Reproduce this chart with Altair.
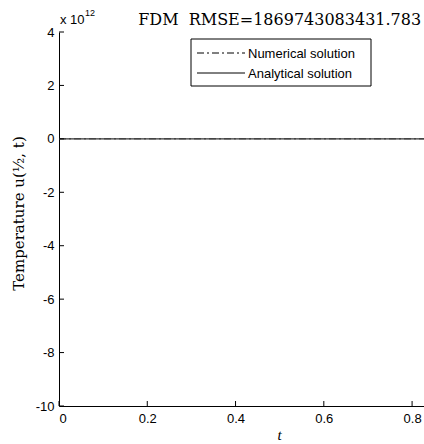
import altair as alt
import pandas as pd

# ---- data ----
t_vals = [0.0, 0.1, 0.2, 0.3, 0.4, 0.5, 0.6, 0.7, 0.8, 0.83]
analytical = [1.0, 0.373, 0.139, 0.052, 0.019, 0.0072, 0.0027, 0.001, 0.00037, 0.00028]
numerical = [1.0, 0.37, 0.14, 0.05, 0.02, 0.007, 0.003, 0.001, 0.0004, 0.0003]
series_names = ["Numerical solution", "Analytical solution"]
x_ticks = [0.0, 0.2, 0.4, 0.6, 0.8]
y_ticks = [-10e12, -8e12, -6e12, -4e12, -2e12, 0.0, 2e12, 4e12]
title_text = "FDM\u00a0\u00a0RMSE=1869743083431.783"
x_label = "t"
y_label = "Temperature u(\u00bd, t)"

W, H = 365, 374
X_DOMAIN = [0, 0.827]
Y_DOMAIN = [-10e12, 4e12]

xs = alt.Scale(domain=X_DOMAIN, nice=False, zero=False)
ys = alt.Scale(domain=Y_DOMAIN, nice=False, zero=False)
dash_map = {series_names[0]: [7, 3, 2, 3], series_names[1]: [1, 0]}

df_num = pd.DataFrame({"t": t_vals, "u": numerical})
df_ana = pd.DataFrame({"t": t_vals, "u": analytical})

x_enc = alt.X("t:Q", scale=xs, axis=alt.Axis(values=x_ticks, title=None, ticks=False,
                                             labelPadding=6, grid=False, format="~g"))
y_enc = alt.Y("u:Q", scale=ys, axis=alt.Axis(values=y_ticks, ticks=False, grid=False,
                                             labelExpr="datum.value/1e12", labelPadding=5,
                                             title=y_label, titleFont="DejaVu Serif",
                                             titleFontSize=15, titleFontWeight="normal",
                                             titleX=-41, titleY=H / 2 - 6, titleAngle=270,
                                             titleAlign="center", titleBaseline="middle"))

num_line = alt.Chart(df_num).mark_line(clip=True, strokeWidth=1, color="#333",
                                       strokeDash=dash_map[series_names[0]]).encode(x=x_enc, y=y_enc)
ana_line = alt.Chart(df_ana).mark_line(clip=True, strokeWidth=1.3, color="#333").encode(
    x=alt.X("t:Q", scale=xs), y=alt.Y("u:Q", scale=ys))

xt = alt.Chart(pd.DataFrame({"t": x_ticks})).mark_rule(color="black", strokeWidth=1).encode(
    x=alt.X("t:Q", scale=xs), y=alt.value(H), y2=alt.value(H - 5))
yt = alt.Chart(pd.DataFrame({"u": y_ticks})).mark_rule(color="black", strokeWidth=1).encode(
    y=alt.Y("u:Q", scale=ys), x=alt.value(0), x2=alt.value(5))

title = alt.Chart(pd.DataFrame({"s": [title_text]})).mark_text(
    font="DejaVu Serif", fontSize=16, align="center", baseline="alphabetic", color="black"
).encode(x=alt.datum(0.5, scale=xs), y=alt.value(-7), text="s:N")

xlab = alt.Chart(pd.DataFrame({"s": [x_label]})).mark_text(
    font="Liberation Serif", fontStyle="italic", fontSize=15, align="center",
    baseline="alphabetic", color="black"
).encode(x=alt.datum(0.5, scale=xs), y=alt.value(H + 34), text="s:N")

mult = alt.Chart(pd.DataFrame({"s": ["x 10"]})).mark_text(
    font="Liberation Sans", fontSize=13, align="left", baseline="alphabetic", color="black"
).encode(x=alt.value(1), y=alt.value(-8), text="s:N")
expo = alt.Chart(pd.DataFrame({"s": ["12"]})).mark_text(
    font="Liberation Sans", fontSize=9, align="left", baseline="alphabetic", color="black"
).encode(x=alt.value(26), y=alt.value(-16), text="s:N")

# manual legend
LX0, LX1, LY0, LY1 = 132, 312, 7, 54
box = alt.Chart(pd.DataFrame({"a": [0]})).mark_rect(
    fill="white", stroke="black", strokeWidth=1
).encode(x=alt.value(LX0), x2=alt.value(LX1), y=alt.value(LY0), y2=alt.value(LY1))
leg_layers = [box]
for i, name in enumerate(series_names):
    yy = 21 + 20 * i
    leg_layers.append(alt.Chart(pd.DataFrame({"s": [name]})).mark_rule(
        color="black", strokeWidth=1, strokeDash=dash_map[name]
    ).encode(x=alt.value(138), x2=alt.value(186), y=alt.value(yy)))
    leg_layers.append(alt.Chart(pd.DataFrame({"s": [name]})).mark_text(
        font="Liberation Sans", fontSize=13, align="left", baseline="middle", color="black"
    ).encode(x=alt.value(189), y=alt.value(yy + 1), text="s:N"))

chart = alt.layer(num_line, ana_line, xt, yt, title, xlab, mult, expo, *leg_layers).properties(
    width=W, height=H,
    autosize=alt.AutoSizeParams(type="none"),
    padding={"left": 59, "top": 32, "right": 0, "bottom": 38},
    background="white",
).configure_view(stroke=None).configure_axis(
    domainColor="black", domainWidth=1, labelColor="black", labelFont="Liberation Sans",
    labelFontSize=13, titleColor="black",
)

chart.save("out.html", embed_options={"renderer": "svg", "actions": False})
